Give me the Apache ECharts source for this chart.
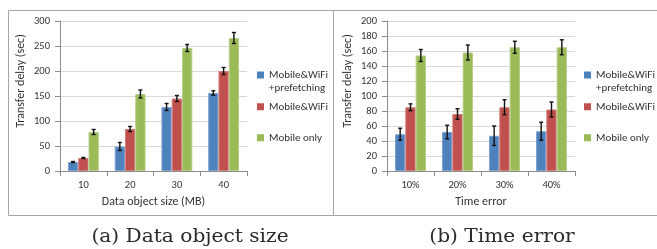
<!DOCTYPE html>
<html>
<head>
<meta charset="utf-8">
<script src="https://cdn.jsdelivr.net/npm/echarts@6/dist/echarts.min.js"></script>
<style>
html,body{margin:0;padding:0;background:#fff;}
#chart{width:657px;height:249px;}
</style>
</head>
<body>
<div id="chart"></div>
<script>
// ---- data ----
const sizeCategories = ['10', '20', '30', '40'];
const timeCategories = ['10%', '20%', '30%', '40%'];
const seriesNames = ['Mobile&WiFi\n+prefetching', 'Mobile&WiFi', 'Mobile only'];

const sizePrefetch = [18, 49, 128, 156];
const sizePrefetchErr = [1, 8, 7, 4.5];
const sizeWifi = [26, 84, 145, 200];
const sizeWifiErr = [1, 5, 6, 7];
const sizeMobile = [78, 154, 246, 266];
const sizeMobileErr = [5, 8, 7, 11];

const timePrefetch = [49, 52, 47, 53];
const timePrefetchErr = [8, 9, 13, 12];
const timeWifi = [85, 76, 85, 82];
const timeWifiErr = [4.5, 7, 10, 10];
const timeMobile = [154, 158, 165, 165];
const timeMobileErr = [8, 10, 8, 10];

const sizeTicks = {min: 0, max: 300, interval: 50};
const timeTicks = {min: 0, max: 200, interval: 20};

// ---- styling ----
const colors = ['#4F81BD', '#C0504D', '#9BBB59'];
const borders = ['#7FA2CF', '#D27E7C', '#B6CE88'];
const font = 'Carlito, Lato, "Liberation Sans", sans-serif';
const textColor = '#333';
const CAT_GAP = 0.34;

const chart = echarts.init(document.getElementById('chart'), null, {renderer: 'canvas'});

function errorBars(values, errs, k, axisIdx) {
  return {
    type: 'custom',
    xAxisIndex: axisIdx,
    yAxisIndex: axisIdx,
    silent: true,
    z: 10,
    data: values.map((v, i) => [i, v - errs[i], v + errs[i]]),
    encode: {x: 0, y: [1, 2]},
    renderItem: function (params, api) {
      const idx = api.value(0);
      const band = api.size([1, 0])[0];
      const barW = band * (1 - CAT_GAP) / 3;
      const cx = api.coord([idx, 0])[0] + (k - 1) * barW;
      const yLo = api.coord([idx, api.value(1)])[1];
      const yHi = api.coord([idx, api.value(2)])[1];
      const st = {stroke: '#111', lineWidth: 1.4};
      return {
        type: 'group',
        children: [
          {type: 'line', shape: {x1: cx, y1: yLo, x2: cx, y2: yHi}, style: st},
          {type: 'line', shape: {x1: cx - 2, y1: yLo, x2: cx + 2, y2: yLo}, style: st},
          {type: 'line', shape: {x1: cx - 2, y1: yHi, x2: cx + 2, y2: yHi}, style: st}
        ]
      };
    }
  };
}

function barSeries(values, k, axisIdx) {
  return {
    type: 'bar',
    name: seriesNames[k],
    xAxisIndex: axisIdx,
    yAxisIndex: axisIdx,
    data: values,
    barGap: '0%',
    barCategoryGap: (CAT_GAP * 100) + '%',
    itemStyle: {color: colors[k], borderColor: borders[k], borderWidth: 1},
    emphasis: {disabled: true}
  };
}

function xAxis(cats, name, grid) {
  return {
    type: 'category',
    gridIndex: grid,
    data: cats,
    name: name,
    nameLocation: 'middle',
    nameGap: 25,
    nameTextStyle: {fontFamily: font, fontSize: 12, color: textColor},
    axisLine: {lineStyle: {color: '#8c8c8c', width: 1}},
    axisTick: {show: true, length: 5, lineStyle: {color: '#8c8c8c'}},
    axisLabel: {fontFamily: font, fontSize: 10.5, color: textColor, margin: 9}
  };
}

function yAxis(ticks, grid) {
  return {
    type: 'value',
    gridIndex: grid,
    min: ticks.min, max: ticks.max, interval: ticks.interval,
    name: 'Transfer delay (sec)',
    nameLocation: 'middle',
    nameGap: 33,
    nameTextStyle: {fontFamily: font, fontSize: 12, color: textColor, padding: [0, 0, 0, 30]},
    axisLine: {show: true, lineStyle: {color: '#8c8c8c', width: 1}},
    axisTick: {show: true, length: 5, lineStyle: {color: '#8c8c8c'}},
    axisLabel: {fontFamily: font, fontSize: 10.5, color: textColor, margin: 10},
    splitLine: {show: true, lineStyle: {color: '#d9d9d9', width: 1}}
  };
}

// first entry: square at the top of a tall icon box (tiny invisible speck at the bottom
// stretches the box), so the square sits beside the first text line
const topSquareIcon = 'path://M0,0L7,0L7,7L0,7Z M3.5,19.95L3.55,19.95L3.55,20L3.5,20Z';

function legendItem(k, left, top) {
  return {
    left: left, top: top, padding: 0,
    orient: 'vertical',
    itemWidth: 7, itemHeight: k === 0 ? 20 : 7, itemGap: 0,
    icon: k === 0 ? topSquareIcon : 'rect',
    itemStyle: {borderWidth: 0},
    selectedMode: false,
    textStyle: {fontFamily: font, fontSize: 11, color: textColor, lineHeight: 13.5},
    data: [seriesNames[k]]
  };
}

const legendTops = [68, 100, 131];
const legends = [];
[257, 584].forEach(left => {
  for (let k = 0; k < 3; k++) legends.push(legendItem(k, left, legendTops[k]));
});

const option = {
  animation: false,
  backgroundColor: '#fff',
  color: colors,
  grid: [
    {left: 60, top: 21, width: 187, height: 150, containLabel: false},
    {left: 387, top: 21, width: 188, height: 150, containLabel: false}
  ],
  legend: legends,
  xAxis: [xAxis(sizeCategories, 'Data object size (MB)', 0), xAxis(timeCategories, 'Time error', 1)],
  yAxis: [yAxis(sizeTicks, 0), yAxis(timeTicks, 1)],
  series: [
    barSeries(sizePrefetch, 0, 0),
    barSeries(sizeWifi, 1, 0),
    barSeries(sizeMobile, 2, 0),
    barSeries(timePrefetch, 0, 1),
    barSeries(timeWifi, 1, 1),
    barSeries(timeMobile, 2, 1),
    errorBars(sizePrefetch, sizePrefetchErr, 0, 0),
    errorBars(sizeWifi, sizeWifiErr, 1, 0),
    errorBars(sizeMobile, sizeMobileErr, 2, 0),
    errorBars(timePrefetch, timePrefetchErr, 0, 1),
    errorBars(timeWifi, timeWifiErr, 1, 1),
    errorBars(timeMobile, timeMobileErr, 2, 1)
  ],
  graphic: [
    {type: 'rect', silent: true, shape: {x: 8.5, y: 10.5, width: 700, height: 205},
      style: {fill: 'none', stroke: '#a6a6a6', lineWidth: 1}},
    {type: 'line', silent: true, shape: {x1: 333.5, y1: 10.5, x2: 333.5, y2: 215.5},
      style: {stroke: '#a6a6a6', lineWidth: 1}},
    {type: 'text', silent: true, x: 190, y: 237, scaleX: 1.12,
      style: {text: '(a) Data object size', font: '18px "DejaVu Serif", serif', fill: '#2a2a2a', align: 'center', verticalAlign: 'middle'}},
    {type: 'text', silent: true, x: 502, y: 237, scaleX: 1.12,
      style: {text: '(b) Time error', font: '18px "DejaVu Serif", serif', fill: '#2a2a2a', align: 'center', verticalAlign: 'middle'}}
  ]
};

chart.setOption(option);
</script>
</body>
</html>
